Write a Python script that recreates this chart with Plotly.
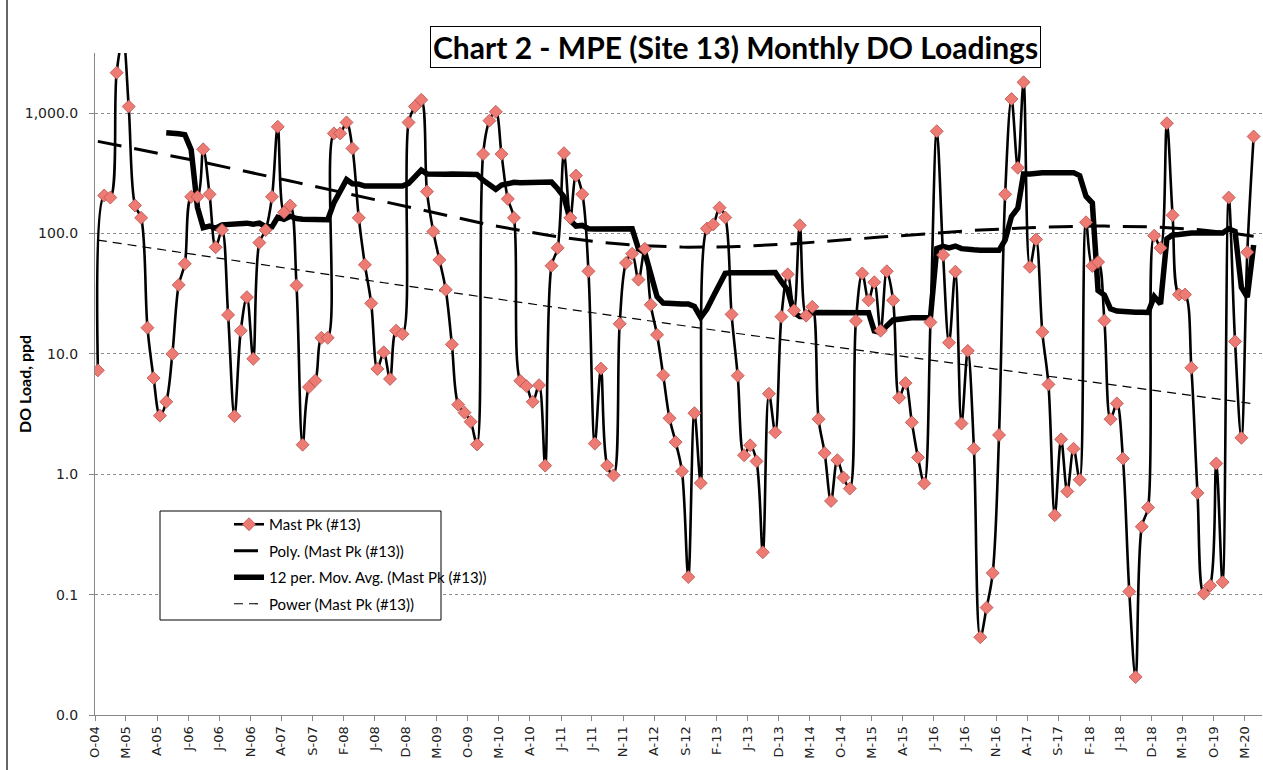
import numpy as np
import pandas as pd
import plotly.graph_objects as go

# ---------------- data ----------------
series_name = "Mast Pk (#13)"
first_month = "2004-10-01"          # first sample month (Oct 2004)

do_load = [
    7.3, 207, 199, 2170, 4200, 1135, 171, 135, 16.5, 6.3,
    3.07, 4.0, 10.0, 37.4, 56, 202, 202, 501, 212, 77,
    107, 21.1, 3.04, 15.6, 29.6, 9.1, 84, 107, 202, 771,
    150, 171, 37.1, 1.76, 5.3, 6.0, 13.6, 13.6, 679, 679,
    838, 510, 135, 55, 26.3, 7.5, 10.3, 6.2, 15.6, 14.6,
    838, 1135, 1290, 223, 104, 60.5, 34.1, 12.0, 3.79, 3.25,
    2.73, 1.77, 457, 867, 1026, 457, 194, 135, 5.97, 5.4,
    4.0, 5.5, 1.18, 54, 76, 465, 135, 303, 212, 48.6,
    1.8, 7.55, 1.18, 0.98, 17.8, 57, 68, 41.4, 74.7, 25.6,
    14.4, 6.66, 2.92, 1.85, 1.06, 0.14, 3.22, 0.845, 110, 119,
    164, 136, 21.3, 6.6, 1.44, 1.74, 1.28, 0.225, 4.67, 2.23,
    20.4, 45.8, 23, 117, 20.8, 24.6, 2.87, 1.5, 0.60, 1.31,
    0.94, 0.76, 18.8, 46.6, 27.9, 39.4, 15.6, 48.6, 27.9, 4.33,
    5.72, 2.7, 1.38, 0.84, 18.3, 708, 66.4, 12.4, 48.2, 2.64,
    10.6, 1.63, 0.0443, 0.078, 0.151, 2.12, 212, 1310, 352, 1806,
    52.9, 89.2, 15.2, 5.58, 0.457, 1.95, 0.72, 1.63, 0.90, 124,
    53.8, 58, 18.9, 2.87, 3.88, 1.35, 0.106, 0.0207, 0.367, 0.53,
    96, 76, 825, 142, 31.1, 31.1, 7.68, 0.70, 0.102, 0.119,
    1.23, 0.127, 199, 12.7, 2.01, 69.9, 640,
]

x_tick_labels = [
    "O-04", "M-05", "A-05", "J-06", "J-06", "N-06", "A-07", "S-07", "F-08", "J-08",
    "D-08", "M-09", "O-09", "M-10", "A-10", "J-11", "J-11", "N-11", "A-12", "S-12",
    "F-13", "J-13", "D-13", "M-14", "O-14", "M-15", "A-15", "J-16", "J-16", "N-16",
    "A-17", "S-17", "F-18", "J-18", "D-18", "M-19", "O-19", "M-20",
]
y_tick_values = [0.01, 0.1, 1, 10, 100, 1000]
y_tick_labels = ["0.0", "0.1", "1.0", "10.0", "100.0", "1,000.0"]

ma_period = 12
poly_order = 3

# ---------------- derived series (like the spreadsheet trendlines) ----------------
y = np.array(do_load, dtype=float)
dates = pd.date_range(first_month, periods=len(y), freq="MS") + pd.Timedelta(days=14)
x_tick_dates = pd.date_range(first_month, periods=len(x_tick_labels), freq="5MS")

serial = np.array((dates - pd.Timestamp("1899-12-30")).days, dtype=float)
xc = (serial - serial.mean()) / serial.std()
poly_coef = np.polyfit(xc, y, poly_order)
poly_vals = np.polyval(poly_coef, xc)

b, ln_a = np.polyfit(np.log(serial), np.log(y), 1)
power_vals = np.exp(ln_a) * serial ** b

ma_vals = pd.Series(y).rolling(ma_period).mean().to_numpy()

# ---------------- figure ----------------
W, H = 1263, 770
ML, MR, MT, MB = 95, 1, 53, 55
PW, PH = W - ML - MR, H - MT - MB


def px_x(p):
    return (p - ML) / PW


def px_y(p):
    return 1 - (p - MT) / PH


fig = go.Figure()

fig.add_trace(go.Scatter(
    x=dates, y=poly_vals, mode="lines", name="Poly. (Mast Pk (#13))",
    line=dict(color="black", width=3, dash="24px,13px"),
    legendgroup="b", legendrank=2, hoverinfo="skip",
))
fig.add_trace(go.Scatter(
    x=dates, y=ma_vals, mode="lines", name="12 per. Mov. Avg. (Mast Pk (#13))",
    line=dict(color="black", width=5.5),
    legendgroup="c", legendrank=3, hoverinfo="skip",
))
fig.add_trace(go.Scatter(
    x=dates, y=power_vals, mode="lines", name="Power (Mast Pk (#13))",
    line=dict(color="black", width=1.2, dash="9px,6px"),
    legendgroup="d", legendrank=4, hoverinfo="skip",
))
fig.add_trace(go.Scatter(
    x=dates, y=y, mode="lines+markers", name=series_name,
    line=dict(color="black", width=2.6, shape="spline", smoothing=1.0),
    marker=dict(symbol="diamond", size=10, color="#ED7B73",
                line=dict(color="#B5524C", width=0.8)),
    legendgroup="a", legendrank=1, cliponaxis=True,
))

fig.update_layout(
    width=W, height=H, autosize=False,
    margin=dict(l=ML, r=MR, t=MT, b=MB, autoexpand=False),
    paper_bgcolor="white", plot_bgcolor="white",
    font=dict(family="DejaVu Sans", color="#222"),
    showlegend=True,
    legend=dict(
        x=px_x(229), y=px_y(508), xanchor="left", yanchor="top",
        bgcolor="rgba(0,0,0,0)", borderwidth=0,
        font=dict(family="Lato", size=15, color="black"),
        tracegroupgap=4,
    ),
    xaxis=dict(
        type="date", range=["2004-10-01", "2020-05-26"], automargin=False,
        tickmode="array", tickvals=x_tick_dates, ticktext=x_tick_labels,
        tickangle=-90, ticks="outside", ticklen=5, tickcolor="#888",
        showline=True, linecolor="#888", linewidth=1,
        showgrid=False, zeroline=False,
        tickfont=dict(family="DejaVu Sans", size=13, color="#222"),
    ),
    yaxis=dict(
        type="log", range=[-2, 3.5], automargin=False,
        tickmode="array", tickvals=y_tick_values, ticktext=y_tick_labels,
        ticks="outside", ticklen=5, tickcolor="#888",
        showline=True, linecolor="#888", linewidth=1,
        showgrid=True, gridcolor="#8c8c8c", griddash="dot", gridwidth=1,
        zeroline=False, ticklabelstandoff=8,
        tickfont=dict(family="DejaVu Sans", size=14, color="#222"),
    ),
    shapes=[
        dict(type="rect", xref="paper", yref="paper",
             x0=px_x(160), x1=px_x(441), y0=px_y(620), y1=px_y(511),
             fillcolor="white", line=dict(color="black", width=1), layer="above"),
        dict(type="line", xref="paper", yref="paper",
             x0=px_x(7), x1=px_x(7), y0=-0.2, y1=1.2,
             line=dict(color="#333", width=1.5)),
    ],
    annotations=[
        dict(text="<b>Chart 2 - MPE (Site 13) Monthly DO Loadings</b>",
             xref="paper", yref="paper", x=px_x(736), y=px_y(47.5),
             xanchor="center", yanchor="middle", showarrow=False,
             font=dict(family="Lato", size=30, color="black"),
             bordercolor="black", borderwidth=1, borderpad=2, bgcolor="white"),
        dict(text="<b>DO Load, ppd</b>", xref="paper", yref="paper",
             x=px_x(24), y=0.5, xanchor="center", yanchor="middle",
             textangle=-90, showarrow=False,
             font=dict(family="Lato", size=16, color="black")),
    ],
)

fig.write_html("out.html", config={"displayModeBar": False},
               post_script="document.body.style.margin='0px';")
